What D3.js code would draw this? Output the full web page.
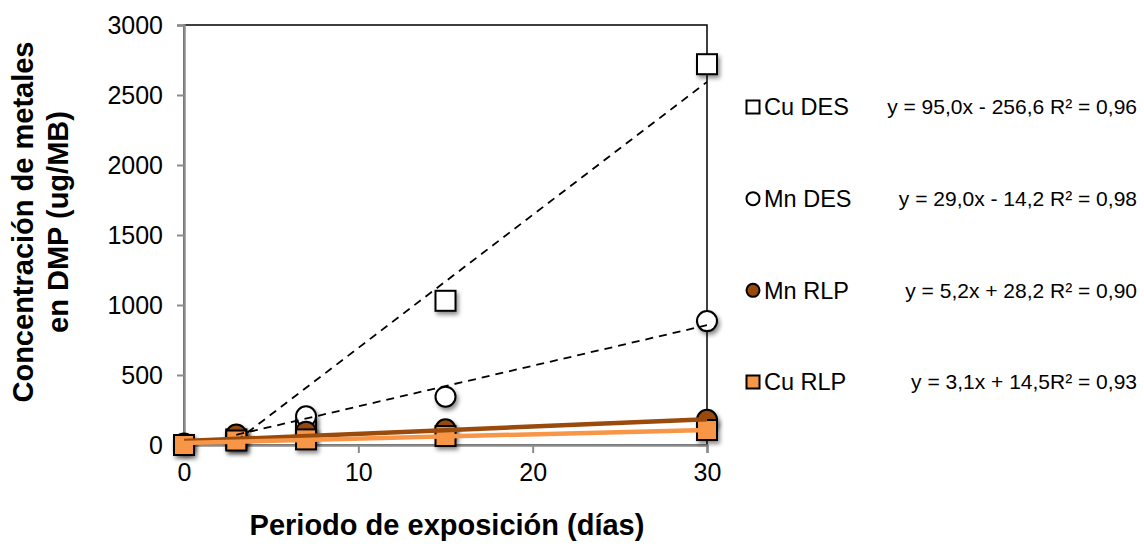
<!DOCTYPE html>
<html>
<head>
    <meta charset="utf-8">
    <script src="https://d3js.org/d3.v7.min.js"></script>
    <style>
        body { margin: 0; background: #fff; }
        text { font-family: "Liberation Sans", Arial, sans-serif; fill: #000; }
    </style>
</head>
<body>
    <svg id="chart" width="1144" height="547"></svg>

    <script>
        // data
        const days = [0, 3, 7, 15, 30];
        const cuDES = [null, 40, 110, 1030, 2720];
        const mnDES = [null, 60, 205, 345, 885];
        const mnRLP = [10, 75, 95, 112, 180];
        const cuRLP = [0, 32, 40, 64, 107];

        const seriesNames = ["Cu DES", "Mn DES", "Mn RLP", "Cu RLP"];
        const equations = [
            "y = 95,0x - 256,6 R\u00b2 = 0,96",
            "y = 29,0x - 14,2 R\u00b2 = 0,98",
            "y = 5,2x + 28,2 R\u00b2 = 0,90",
            "y = 3,1x + 14,5R\u00b2 = 0,93"
        ];
        // trendline slope / intercept and x range
        const slopes = [95.0, 29.0, 5.2, 3.1];
        const intercepts = [-256.6, -14.2, 28.2, 14.5];
        const trendStart = [3, 3, 0, 0];

        const xTicks = [0, 10, 20, 30];
        const yTicks = [0, 500, 1000, 1500, 2000, 2500, 3000];

        const svg = d3.select("#chart");

        // drop shadow used by the markers
        const defs = svg.append("defs");
        defs.append("filter").attr("id", "shadow")
            .attr("x", "-50%").attr("y", "-50%").attr("width", "200%").attr("height", "200%")
            .append("feDropShadow")
            .attr("dx", 2).attr("dy", 3).attr("stdDeviation", 2)
            .attr("flood-color", "#000").attr("flood-opacity", 0.45);

        const x = d3.scaleLinear().domain([0, 30]).range([184, 707]);
        const y = d3.scaleLinear().domain([0, 3000]).range([445, 25]);

        // plot area border (black)
        svg.append("rect")
            .attr("x", x(0)).attr("y", y(3000))
            .attr("width", x(30) - x(0)).attr("height", y(0) - y(3000))
            .attr("fill", "none").attr("stroke", "#000").attr("stroke-width", 1.5);

        // axes in grey
        const xAxis = svg.append("g")
            .attr("transform", `translate(0,${y(0)})`)
            .call(d3.axisBottom(x).tickValues(xTicks).tickSize(8).tickPadding(8).tickFormat(d3.format("d")));
        const yAxis = svg.append("g")
            .attr("transform", `translate(${x(0)},0)`)
            .call(d3.axisLeft(y).tickValues(yTicks).tickSize(7).tickPadding(14).tickFormat(d3.format("d")));

        [xAxis, yAxis].forEach(g => {
            g.select(".domain").attr("stroke", "#8c8c8c").attr("stroke-width", 2.5);
            g.selectAll(".tick line").attr("stroke", "#8c8c8c").attr("stroke-width", 2);
            g.selectAll(".tick text").attr("font-size", 25).attr("fill", "#000")
                .style("font-family", "'Liberation Sans', Arial, sans-serif");
        });
        xAxis.selectAll(".tick text").attr("dy", "0.8em");
        yAxis.selectAll(".tick text").attr("dy", "0.35em");

        // axis titles
        svg.append("text")
            .attr("x", 447).attr("y", 535)
            .attr("text-anchor", "middle")
            .attr("font-size", 29).attr("font-weight", "bold")
            .text("Periodo de exposición (días)");

        const yTitle = svg.append("text")
            .attr("transform", "translate(33,222) rotate(-90)")
            .attr("text-anchor", "middle")
            .attr("font-size", 29).attr("font-weight", "bold");
        yTitle.append("tspan").attr("x", 0).attr("y", 0).text("Concentración de metales");
        yTitle.append("tspan").attr("x", 0).attr("y", 35).text("en DMP (ug/MB)");

        // series styles
        const styles = [
            { shape: "square", fill: "#fff", line: "#000", width: 1.8, dash: "8,6" },
            { shape: "circle", fill: "#fff", line: "#000", width: 1.8, dash: "8,6" },
            { shape: "circle", fill: "#9a4a0b", line: "#9a4a0b", width: 4.5, dash: null },
            { shape: "square", fill: "#f79646", line: "#f79646", width: 4.5, dash: null }
        ];
        const values = [cuDES, mnDES, mnRLP, cuRLP];

        // clip trendlines to the plot area
        defs.append("clipPath").attr("id", "plotClip")
            .append("rect")
            .attr("x", x(0)).attr("y", y(3000))
            .attr("width", x(30) - x(0)).attr("height", y(0) - y(3000));

        const markers = svg.append("g");
        const trends = svg.append("g").attr("clip-path", "url(#plotClip)");

        function drawMarker(g, st, cx, cy, size) {
            if (st.shape === "square") {
                g.append("rect")
                    .attr("x", cx - size / 2).attr("y", cy - size / 2)
                    .attr("width", size).attr("height", size)
                    .attr("fill", st.fill).attr("stroke", "#000").attr("stroke-width", 2);
            } else {
                g.append("circle")
                    .attr("cx", cx).attr("cy", cy).attr("r", size / 2)
                    .attr("fill", st.fill).attr("stroke", "#000").attr("stroke-width", 2);
            }
        }

        values.forEach((vals, i) => {
            const st = styles[i];
            // trendline from the regression
            trends.append("line")
                .attr("x1", x(trendStart[i])).attr("y1", y(slopes[i] * trendStart[i] + intercepts[i]))
                .attr("x2", x(30)).attr("y2", y(slopes[i] * 30 + intercepts[i]))
                .attr("stroke", st.line).attr("stroke-width", st.width)
                .attr("stroke-dasharray", st.dash);

            const mg = markers.append("g").attr("filter", "url(#shadow)");
            days.forEach((d, j) => {
                if (vals[j] == null) return;
                drawMarker(mg, st, x(d), y(vals[j]), 20);
            });
        });

        // legend with equations
        const legendY = d3.scaleLinear().domain([0, 3]).range([107, 382]);
        seriesNames.forEach((name, i) => {
            const ly = legendY(i);
            drawMarker(svg, styles[i], 753, ly, 13);
            svg.append("text")
                .attr("x", 764).attr("y", ly).attr("dy", "0.35em")
                .attr("font-size", 23.5)
                .text(name);
            svg.append("text")
                .attr("x", 1137).attr("y", ly).attr("dy", "0.35em")
                .attr("text-anchor", "end")
                .attr("font-size", 21)
                .text(equations[i]);
        });
    </script>
</body>
</html>
